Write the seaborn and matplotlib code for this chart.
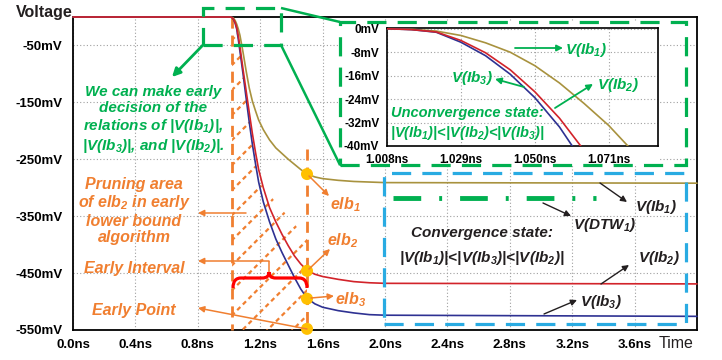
import numpy as np
import pandas as pd
import matplotlib
matplotlib.use("Agg")
import matplotlib.pyplot as plt
import seaborn as sns
from matplotlib.patches import Rectangle, FancyArrowPatch, PathPatch, Polygon
from matplotlib.path import Path
from matplotlib.lines import Line2D

# ---------------- data ----------------
time_ns = [0.0, 1.008, 1.02, 1.03, 1.04, 1.05, 1.06, 1.07, 1.09, 1.11, 1.13, 1.15, 1.17, 1.19,
           1.22, 1.26, 1.30, 1.34, 1.38, 1.42, 1.46, 1.50, 1.55, 1.60, 1.70, 1.80, 1.90, 2.00, 4.00]
v_ib1 = [0, 0, -0.8, -2.4, -6.5, -13, -21.5, -32, -62, -95, -125, -148, -165, -181,
         -198, -216, -230, -240, -250, -259, -268, -276, -281, -284, -287, -289, -290, -291, -292]
v_ib3 = [0, 0, -1, -5, -11.5, -22, -40, -60, -100, -143, -185, -224, -258, -290,
         -325, -360, -390, -414, -436, -458, -478, -494, -504, -510, -516, -520, -523, -524, -526]
v_ib2 = [0, 0, -1, -4.4, -10, -19, -34, -52, -92, -130, -168, -205, -238, -268,
         -300, -335, -360, -382, -402, -420, -434, -445, -452, -456, -461, -465, -467, -468, -469]

inset_t = [1.008, 1.015, 1.022, 1.029, 1.036, 1.043, 1.050, 1.057, 1.064, 1.071, 1.078, 1.085]
inset_ib1 = [0, -0.2, -0.8, -2.3, -4.8, -8.0, -12.6, -18.5, -25.5, -33.0, -42.0, -52.0]
inset_ib2 = [0, -0.3, -1.1, -4.0, -8.2, -14.0, -21.5, -30.5, -41.5, -53.0, -65.0, -78.0]
inset_ib3 = [0, -0.3, -1.2, -4.6, -9.2, -15.5, -23.5, -33.5, -46.0, -59.0, -73.0, -88.0]

elb_t = [1.5, 1.5, 1.5, 1.5]
elb_v = [-276, -446, -495, -548]

dtw_t = [2.05, 3.35]
dtw_v = [-318, -318]

x_ticks = [0.0, 0.4, 0.8, 1.2, 1.6, 2.0, 2.4, 2.8, 3.2, 3.6]
x_labels = ["0.0ns", "0.4ns", "0.8ns", "1.2ns", "1.6ns", "2.0ns", "2.4ns", "2.8ns", "3.2ns", "3.6ns"]
y_ticks = [-50, -150, -250, -350, -450, -550]
y_labels = ["-50mV", "-150mV", "-250mV", "-350mV", "-450mV", "-550mV"]
ix_ticks = [1.008, 1.029, 1.050, 1.071]
ix_labels = ["1.008ns", "1.029ns", "1.050ns", "1.071ns"]
iy_ticks = [0, -8, -16, -24, -32, -40]
iy_labels = ["0mV", "-8mV", "-16mV", "-24mV", "-32mV", "-40mV"]

# ---------------- style ----------------
sns.set_style("white")
plt.rcParams['font.family'] = ['Liberation Sans', 'DejaVu Sans']
plt.rcParams['mathtext.fontset'] = 'custom'
plt.rcParams['mathtext.rm'] = 'Liberation Sans:italic:bold'
plt.rcParams['mathtext.it'] = 'Liberation Sans:italic:bold'
plt.rcParams['mathtext.bf'] = 'Liberation Sans:italic:bold'

GREEN = '#00B050'
ORANGE = '#F07F30'
BLUEBOX = '#29ABE2'
C1, C2, C3 = '#A8923E', '#D2232A', '#2E3192'
YELLOW = '#FFC000'
BLACK = '#231F20'
GRID = '#A0A0A0'

W, H = 722, 360
fig = plt.figure(figsize=(7.22, 3.6), dpi=100)


def P(x, y):
    return (x / W, 1 - y / H)


def ftext(x, y, s, color, size=11, ha='center', va='center', weight='bold', style='italic', **kw):
    fig.text(x / W, 1 - y / H, s, color=color, fontsize=size, ha=ha, va=va,
             fontweight=weight, fontstyle=style, zorder=9, **kw)


def farrow(x0, y0, x1, y1, color, lw=1.1, head=9):
    a = FancyArrowPatch(P(x0, y0), P(x1, y1), transform=fig.transFigure, arrowstyle='-|>',
                        mutation_scale=head, color=color, lw=lw, zorder=9, shrinkA=0, shrinkB=0)
    fig.add_artist(a)


def fline(xs, ys, color, lw, ls='-', z=8):
    fig.add_artist(Line2D([x / W for x in xs], [1 - y / H for y in ys], transform=fig.transFigure,
                          color=color, lw=lw, linestyle=ls, zorder=z, solid_capstyle='butt'))


def frect(x0, y0, x1, y1, color, lw, dashes, z=8):
    fig.add_artist(Rectangle(P(x0, y1), (x1 - x0) / W, (y1 - y0) / H, transform=fig.transFigure,
                             fill=False, edgecolor=color, lw=lw, linestyle=(0, dashes), zorder=z))


# ---------------- main axes ----------------
ax = fig.add_axes([73 / W, 1 - 330 / H, (697 - 73) / W, (330 - 17) / H])
n = len(time_ns)
df = pd.DataFrame({'t': time_ns * 3, 'v': v_ib1 + v_ib3 + v_ib2,
                   'curve': ['Ib1'] * n + ['Ib3'] * n + ['Ib2'] * n})
sns.lineplot(data=df, x='t', y='v', hue='curve', hue_order=['Ib1', 'Ib3', 'Ib2'],
             palette={'Ib1': C1, 'Ib2': C2, 'Ib3': C3}, estimator=None, sort=False,
             legend=False, linewidth=1.2, ax=ax, clip_on=False, zorder=4)

ax.set_xlim(0, 4.0)
ax.set_ylim(-550, 0)
ax.set_xticks(x_ticks)
ax.set_xticklabels(x_labels)
ax.set_yticks(y_ticks)
ax.set_yticklabels(y_labels)
ax.set_xlabel('')
ax.set_ylabel('')
ax.grid(True, linestyle=(0, (1, 2)), color=GRID, linewidth=0.8)
ax.set_axisbelow(True)
for s in ax.spines.values():
    s.set_color('black')
    s.set_linewidth(1.3)
ax.tick_params(axis='y', direction='out', length=7, width=1.3, pad=0.5, labelsize=9.5, colors='black')
ax.tick_params(axis='x', direction='out', length=4, width=1.3, pad=2.5, labelsize=9.5, colors='black')
for lab in ax.get_xticklabels() + ax.get_yticklabels():
    lab.set_fontweight('bold')

# orange early-interval lines
ax.plot([1.02, 1.02], [0, -550], color=ORANGE, lw=2.0, linestyle=(0, (4, 2.5)), zorder=3, clip_on=False)
ax.plot([1.5, 1.5], [-232, -550], color=ORANGE, lw=2.0, linestyle=(0, (4, 2.5)), zorder=3, clip_on=False)

# hatched pruning area (dashed hatch lines clipped to the area)
poly_pts = [(1.02, 0)] + [(t, v) for t, v in zip(time_ns, v_ib3) if 1.02 <= t <= 1.19] + \
           [(1.5, -390), (1.5, -550), (1.02, -550)]
clip_poly = Polygon(poly_pts, closed=True, transform=ax.transData, fill=False, edgecolor='none')
for c in np.arange(-700, 10, 44):
    ln, = ax.plot([0.98, 1.6], [c + 274 * (0.98 - 1.02), c + 274 * (1.6 - 1.02)], color=ORANGE,
                  lw=1.6, linestyle=(0, (2, 1.6)), zorder=3)
    ln.set_clip_path(clip_poly)

# DTW line
ax.plot(dtw_t, dtw_v, color=GREEN, lw=3.5, linestyle=(0, (5.7, 3.7, 0.6, 3.7)), zorder=5)

# elb points
sns.scatterplot(x=elb_t, y=elb_v, color=YELLOW, s=75, edgecolor='none', ax=ax, zorder=7, clip_on=False)

# ---------------- white area behind inset ----------------
fig.add_artist(Rectangle(P(340, 165), (658 - 340) / W, (165 - 22) / H, transform=fig.transFigure,
                         facecolor='white', edgecolor='none', zorder=1))

# ---------------- inset axes ----------------
axi = fig.add_axes([387 / W, 1 - 146 / H, (658 - 387) / W, (146 - 28) / H], zorder=2)
m = len(inset_t)
dfi = pd.DataFrame({'t': inset_t * 3, 'v': inset_ib1 + inset_ib3 + inset_ib2,
                    'curve': ['Ib1'] * m + ['Ib3'] * m + ['Ib2'] * m})
sns.lineplot(data=dfi, x='t', y='v', hue='curve', hue_order=['Ib1', 'Ib3', 'Ib2'],
             palette={'Ib1': C1, 'Ib2': C2, 'Ib3': C3}, estimator=None, sort=False,
             legend=False, linewidth=1.2, ax=axi, zorder=4)
axi.set_xlim(1.008, 1.085)
axi.set_ylim(-40, 0.25)
axi.set_xticks(ix_ticks)
axi.set_xticklabels(ix_labels)
axi.set_yticks(iy_ticks)
axi.set_yticklabels(iy_labels)
axi.set_xlabel('')
axi.set_ylabel('')
axi.set_facecolor('white')
axi.grid(True, linestyle=(0, (1, 2)), color=GRID, linewidth=0.8)
axi.set_axisbelow(True)
for s in axi.spines.values():
    s.set_color('black')
    s.set_linewidth(1.2)
axi.tick_params(axis='both', direction='out', length=5, width=1.2, pad=0.5, labelsize=8.5, colors='black')
for lab in axi.get_xticklabels() + axi.get_yticklabels():
    lab.set_fontweight('bold')

# ---------------- overlays ----------------
# green zoom boxes and connectors
frect(203, 8, 281, 45, GREEN, 2.3, (6, 3.5))
frect(340, 22, 686, 165, GREEN, 2.3, (6, 3.5))
fline([281, 340], [8, 22], GREEN, 1.8)
fline([281, 45], [45, 45], 'none', 0)
fline([281, 340], [45, 165], GREEN, 1.8)
farrow(203, 45, 172, 77, GREEN, lw=2.0, head=12)

# blue convergence box
frect(384, 173, 686, 324, BLUEBOX, 2.3, (6, 3.5))

# red brace
verts = [P(233, 288), P(233, 281), P(236, 278), P(241, 278), P(262, 278), P(267, 278), P(269, 276),
         P(269, 272), P(269, 276), P(271, 278), P(276, 278), P(299, 278), P(304, 278), P(307, 281),
         P(307, 288)]
codes = [Path.MOVETO, Path.CURVE4, Path.CURVE4, Path.CURVE4, Path.LINETO, Path.CURVE4, Path.CURVE4,
         Path.CURVE4, Path.CURVE4, Path.CURVE4, Path.CURVE4, Path.LINETO, Path.CURVE4, Path.CURVE4,
         Path.CURVE4]
fig.add_artist(PathPatch(Path(verts, codes), transform=fig.transFigure, fill=False,
                         edgecolor='#FF0000', lw=2.3, zorder=8))

# orange arrows
farrow(246, 213, 198, 213, ORANGE)
fline([269, 269], [272, 261], ORANGE, 1.1)
farrow(269, 261, 198, 261, ORANGE)
farrow(307, 329, 198, 308, ORANGE)
farrow(309, 176, 329, 196, ORANGE)
farrow(309, 269, 330, 249, ORANGE)
farrow(311, 298, 334, 296, ORANGE)

# orange texts
ftext(134, 211, "Pruning area\nof elb$_2$ in early\nlower bound\nalgorithm", ORANGE, size=11.5,
      linespacing=1.12)
ftext(134, 269, "Early Interval", ORANGE, size=11.5)
ftext(134, 311, "Early Point", ORANGE, size=11.5)
ftext(345, 205, "elb$_1$", ORANGE, size=11.5)
ftext(343, 241, "elb$_2$", ORANGE, size=11.5)
ftext(351, 300, "elb$_3$", ORANGE, size=11.5)

# green texts
ftext(153, 120, "We can make early\ndecision of the\nrelations of |V(Ib$_1$)|,\n|V(Ib$_3$)|, and |V(Ib$_2$)|.",
      GREEN, size=11, linespacing=1.18)
ftext(565, 50, "V(Ib$_1$)", GREEN, size=11, ha='left')
farrow(515, 48, 563, 48, GREEN, lw=1.3)
ftext(472, 78, "V(Ib$_3$)", GREEN, size=11)
farrow(524, 87, 495, 79, GREEN, lw=1.3)
ftext(597, 85, "V(Ib$_2$)", GREEN, size=11, ha='left')
farrow(555, 108, 593, 84, GREEN, lw=1.3)
ftext(391, 113, "Unconvergence state:", GREEN, size=10.5, ha='left')
ftext(390, 133, "|V(Ib$_1$)|<|V(Ib$_2$)<|V(Ib$_3$)|", GREEN, size=10.5, ha='left')

# black texts in convergence box
ftext(482, 233, "Convergence state:", BLACK, size=11)
ftext(482, 258, "|V(Ib$_1$)|<|V(Ib$_3$)|<|V(Ib$_2$)|", BLACK, size=11)
ftext(635, 207, "V(Ib$_1$)", BLACK, size=11, ha='left')
farrow(600, 183, 627, 202, BLACK, lw=1.0)
ftext(573, 225, "V(DTW$_1$)", BLACK, size=11, ha='left')
farrow(543, 203, 571, 216, BLACK, lw=1.0)
ftext(638, 258, "V(Ib$_2$)", BLACK, size=11, ha='left')
farrow(601, 284, 629, 265, BLACK, lw=1.0)
ftext(580, 302, "V(Ib$_3$)", BLACK, size=11, ha='left')
farrow(544, 314, 577, 300, BLACK, lw=1.0)

# axis titles
ftext(44, 12, "Voltage", BLACK, size=11.5, style='normal')
ftext(676, 343, "Time", BLACK, size=11.5, weight='normal', style='normal')

fig.savefig("out.png", dpi=100)
